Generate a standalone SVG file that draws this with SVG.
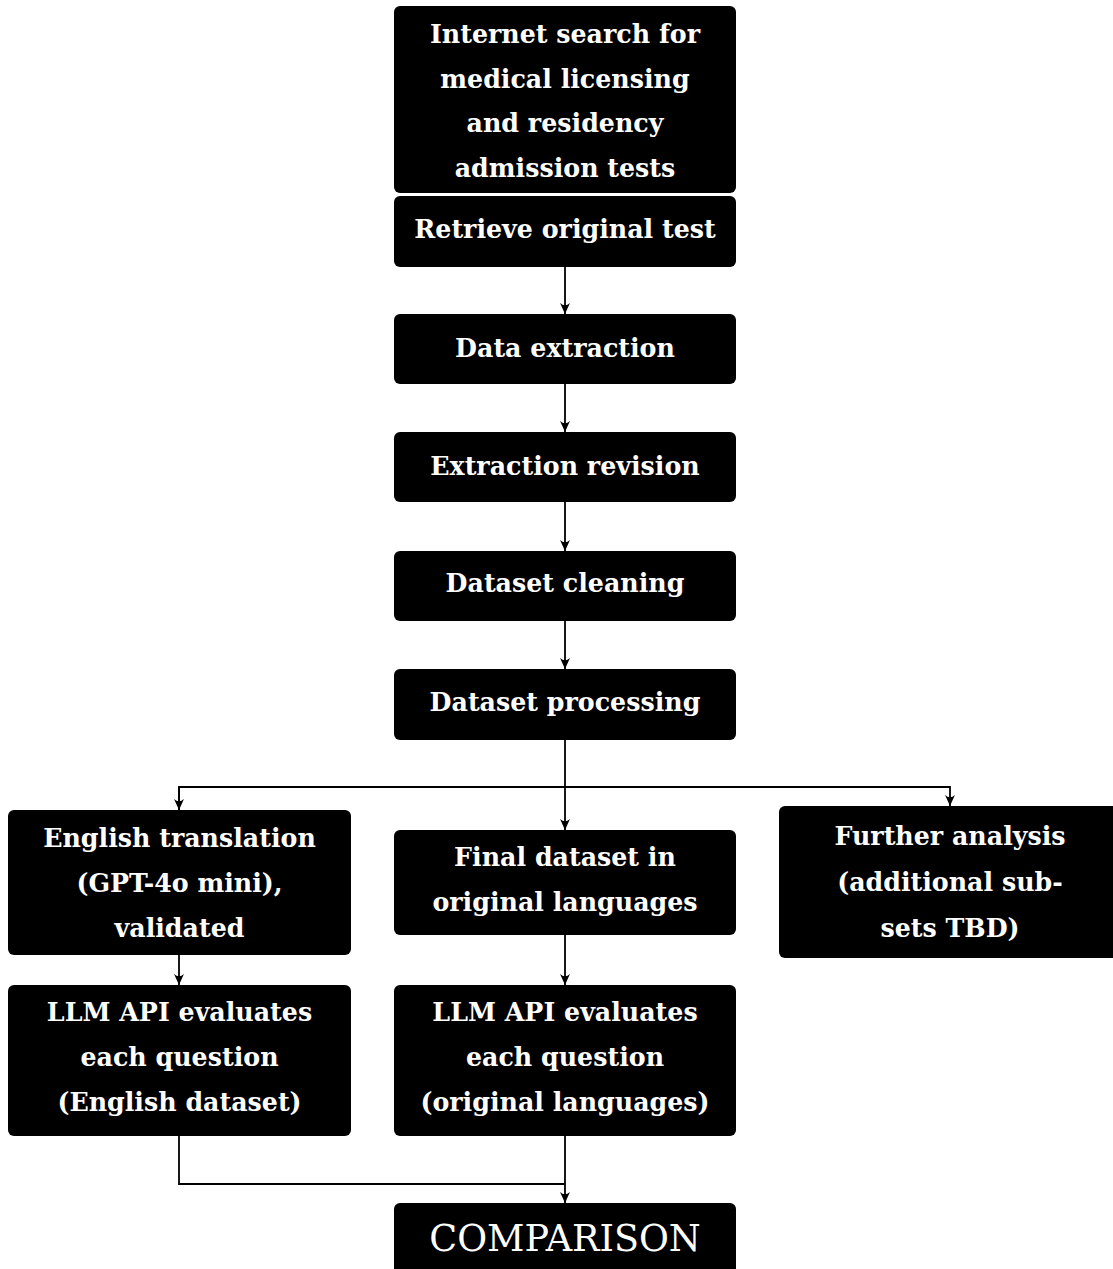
<svg xmlns="http://www.w3.org/2000/svg" width="1113" height="1269" viewBox="0 0 1113 1269">
<style>
.box{fill:#000;}
.t{fill:#fff;font-family:"DejaVu Serif","Liberation Serif",serif;font-weight:bold;font-size:25.3px;text-anchor:middle;}
.big{fill:#fff;font-family:"DejaVu Serif","Liberation Serif",serif;font-size:36.5px;text-anchor:middle;}
.c{fill:none;stroke:#000;stroke-width:1.8;}
</style>
<defs>
<marker id="ah" viewBox="0 0 10 10" refX="10" refY="5" markerWidth="11" markerHeight="11" markerUnits="userSpaceOnUse" orient="auto">
<path d="M10,5 L0,0.5 Q4,5 0,9.5 Z" fill="#000"/>
</marker>
</defs>
<rect width="1113" height="1269" fill="#fff"/>
<g id="connectors">
<path class="c" d="M565,266 V314" marker-end="url(#ah)"/>
<path class="c" d="M565,384 V432" marker-end="url(#ah)"/>
<path class="c" d="M565,502 V551" marker-end="url(#ah)"/>
<path class="c" d="M565,621 V669" marker-end="url(#ah)"/>
<path class="c" d="M565,740 V830" marker-end="url(#ah)"/>
<path class="c" d="M179,810 V787 H950 V806" marker-end="url(#ah)"/>
<path class="c" d="M179,787 V810" marker-end="url(#ah)"/>
<path class="c" d="M179,955 V985" marker-end="url(#ah)"/>
<path class="c" d="M565,935 V985" marker-end="url(#ah)"/>
<path class="c" d="M179,1136 V1184 H565"/>
<path class="c" d="M565,1136 V1203" marker-end="url(#ah)"/>
</g>
<g id="n1"><rect class="box" x="394" y="6" width="342" height="187" rx="6"/>
<text class="t" x="565" y="43">Internet search for</text>
<text class="t" x="565" y="88">medical licensing</text>
<text class="t" x="565" y="132">and residency</text>
<text class="t" x="565" y="177">admission tests</text></g>
<g id="n2"><rect class="box" x="394" y="196" width="342" height="71" rx="6"/>
<text class="t" x="565" y="238">Retrieve original test</text></g>
<g id="n3"><rect class="box" x="394" y="314" width="342" height="70" rx="6"/>
<text class="t" x="565" y="357">Data extraction</text></g>
<g id="n4"><rect class="box" x="394" y="432" width="342" height="70" rx="6"/>
<text class="t" x="565" y="475">Extraction revision</text></g>
<g id="n5"><rect class="box" x="394" y="551" width="342" height="70" rx="6"/>
<text class="t" x="565" y="592">Dataset cleaning</text></g>
<g id="n6"><rect class="box" x="394" y="669" width="342" height="71" rx="6"/>
<text class="t" x="565" y="711">Dataset processing</text></g>
<g id="n7"><rect class="box" x="8" y="810" width="343" height="145" rx="6"/>
<text class="t" x="179.5" y="847">English translation</text>
<text class="t" x="179.5" y="892">(GPT-4o mini),</text>
<text class="t" x="179.5" y="937">validated</text></g>
<g id="n8"><rect class="box" x="394" y="830" width="342" height="105" rx="6"/>
<text class="t" x="565" y="866">Final dataset in</text>
<text class="t" x="565" y="911">original languages</text></g>
<g id="n9"><rect class="box" x="779" y="806" width="342" height="152" rx="6"/>
<text class="t" x="950" y="845">Further analysis</text>
<text class="t" x="950" y="891">(additional sub-</text>
<text class="t" x="950" y="937">sets TBD)</text></g>
<g id="n10"><rect class="box" x="8" y="985" width="343" height="151" rx="6"/>
<text class="t" x="179.5" y="1021">LLM API evaluates</text>
<text class="t" x="179.5" y="1066">each question</text>
<text class="t" x="179.5" y="1111">(English dataset)</text></g>
<g id="n11"><rect class="box" x="394" y="985" width="342" height="151" rx="6"/>
<text class="t" x="565" y="1021">LLM API evaluates</text>
<text class="t" x="565" y="1066">each question</text>
<text class="t" x="565" y="1111">(original languages)</text></g>
<g id="n12"><rect class="box" x="394" y="1203" width="342" height="75" rx="6"/>
<text class="big" x="565" y="1251">COMPARISON</text></g>
</svg>
